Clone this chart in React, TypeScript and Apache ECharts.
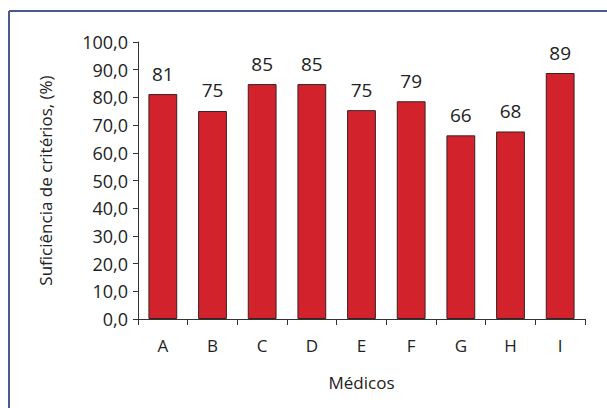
import React, { useEffect, useRef } from "react";
import * as echarts from "echarts";

const categories = ["A", "B", "C", "D", "E", "F", "G", "H", "I"];
const values = [81.2, 75.1, 84.8, 84.8, 75.4, 78.6, 66.3, 67.7, 88.8];
const yMin = 0;
const yMax = 100;
const yInterval = 10;
const xName = "Médicos";
const yName = "Suficiência de critérios, (%)";

const FONT = "'Open Sans', 'DejaVu Sans', sans-serif";

export default function App() {
  const ref = useRef<HTMLDivElement>(null);
  useEffect(() => {
    if (!ref.current) return;
    const chart = echarts.init(ref.current, undefined, { renderer: "svg" });
    chart.setOption({
      animation: false,
      backgroundColor: "#ffffff",
      grid: { left: 138, right: 22, top: 42, bottom: 89, containLabel: false },
      xAxis: {
        type: "category",
        data: categories,
        name: xName,
        nameLocation: "middle",
        nameGap: 55,
        nameTextStyle: { fontFamily: FONT, fontSize: 17, color: "#222" },
        axisLine: { lineStyle: { color: "#333", width: 1 } },
        axisTick: { show: true, length: 6, lineStyle: { color: "#333" } },
        axisLabel: { margin: 18, fontFamily: FONT, fontSize: 17, color: "#222" },
      },
      yAxis: {
        type: "value",
        min: yMin,
        max: yMax,
        interval: yInterval,
        name: yName,
        nameLocation: "middle",
        nameGap: 84,
        nameTextStyle: { fontFamily: FONT, fontSize: 17, color: "#222" },
        axisLine: { show: true, lineStyle: { color: "#333", width: 1 } },
        axisTick: { show: true, length: 5, lineStyle: { color: "#333" } },
        splitLine: { show: false },
        axisLabel: {
          margin: 10,
          fontFamily: FONT,
          fontSize: 18,
          color: "#222",
          formatter: (v: number) => v.toFixed(1).replace(".", ","),
        },
      },
      series: [
        {
          type: "bar",
          data: values,
          barWidth: "58%",
          itemStyle: { color: "#d2232d", borderColor: "#3a2020", borderWidth: 1 },
          label: {
            show: true,
            position: "top",
            distance: 11,
            fontFamily: FONT,
            fontSize: 19,
            color: "#222",
            formatter: (p: any) => String(Math.round(p.value)),
          },
        },
      ],
      graphic: [
        {
          type: "line",
          shape: { x1: 9, y1: 11, x2: 607, y2: 11 },
          style: { stroke: "#4a5a8f", lineWidth: 2 },
        },
        {
          type: "line",
          shape: { x1: 9, y1: 11, x2: 9, y2: 408 },
          style: { stroke: "#4a5a8f", lineWidth: 2 },
        },
      ],
    });
    return () => chart.dispose();
  }, []);
  return (
    <div
      ref={ref}
      style={{ position: "fixed", left: 0, top: 0, width: 607, height: 408 }}
    />
  );
}
